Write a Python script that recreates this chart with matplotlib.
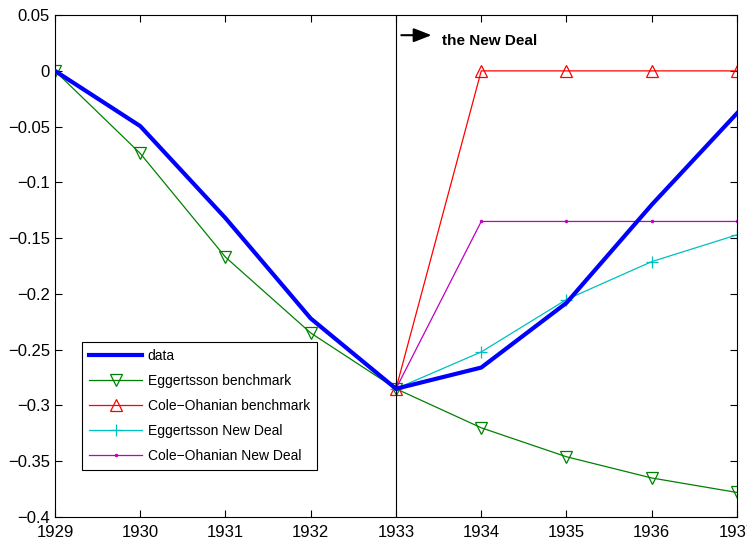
import matplotlib
matplotlib.use("Agg")
import matplotlib.pyplot as plt

plt.rcParams['font.family'] = ['Liberation Sans', 'DejaVu Sans']

# data
years = [1929, 1930, 1931, 1932, 1933, 1934, 1935, 1936, 1937]
data = [0, -0.0495, -0.132, -0.222, -0.285, -0.266, -0.208, -0.12, -0.038]
egg_bench = [0, -0.074, -0.167, -0.235, -0.285, -0.32, -0.346, -0.365, -0.378]
nd_years = [1933, 1934, 1935, 1936, 1937]
co_bench = [-0.285, 0, 0, 0, 0]
egg_nd = [-0.285, -0.252, -0.205, -0.171, -0.147]
co_nd = [-0.285, -0.135, -0.135, -0.135, -0.135]
yticks = [0.05, 0, -0.05, -0.1, -0.15, -0.2, -0.25, -0.3, -0.35, -0.4]
ytick_labels = ["0.05", "0", "\u22120.05", "\u22120.1", "\u22120.15", "\u22120.2",
                "\u22120.25", "\u22120.3", "\u22120.35", "\u22120.4"]

fig = plt.figure(figsize=(7.47, 5.42), dpi=100)
ax = fig.add_axes([0.0736, 0.0461, 0.913, 0.926])

ax.plot(years, data, color="blue", lw=3, label="data", zorder=5)
ax.plot(years, egg_bench, color=(0, 0.5, 0), lw=0.9, marker="v", ms=9,
        mfc="none", mew=0.9, label="Eggertsson benchmark")
ax.plot(nd_years, co_bench, color="red", lw=0.9, marker="^", ms=9,
        mfc="none", mew=0.9, label="Cole\u2212Ohanian benchmark")
ax.plot(nd_years, egg_nd, color="c", lw=0.9, marker="+", ms=9, mew=0.9,
        label="Eggertsson New Deal")
ax.plot(nd_years, co_nd, color="m", lw=0.9, marker=".", ms=3,
        label="Cole\u2212Ohanian New Deal")

ax.axvline(1933, color="black", lw=0.8)
ax.annotate("", xy=(1933.45, 0.032), xytext=(1933.03, 0.032),
            arrowprops=dict(arrowstyle="-|>,head_length=0.9,head_width=0.35",
                            mutation_scale=12, color="black", lw=1.5))
ax.text(1933.54, 0.0265, "the New Deal", fontsize=11, fontweight="bold",
        va="center", ha="left")

ax.set_xlim(1929, 1937)
ax.set_ylim(-0.4, 0.05)
ax.set_xticks(years)
ax.set_xticklabels([str(y) for y in years])
ax.set_yticks(yticks)
ax.set_yticklabels(ytick_labels)
ax.tick_params(direction="in", top=True, right=True, labelsize=12, length=5)
ax.tick_params(axis="x", pad=6)
for s in ax.spines.values():
    s.set_linewidth(0.8)

leg = ax.legend(loc="lower left", bbox_to_anchor=(0.03, 0.08), fontsize=10,
                fancybox=False, edgecolor="black", framealpha=1,
                borderpad=0.5, labelspacing=0.8, handlelength=3.8,
                handletextpad=0.4)
leg.get_frame().set_linewidth(0.8)

fig.savefig("out.png", dpi=100)
